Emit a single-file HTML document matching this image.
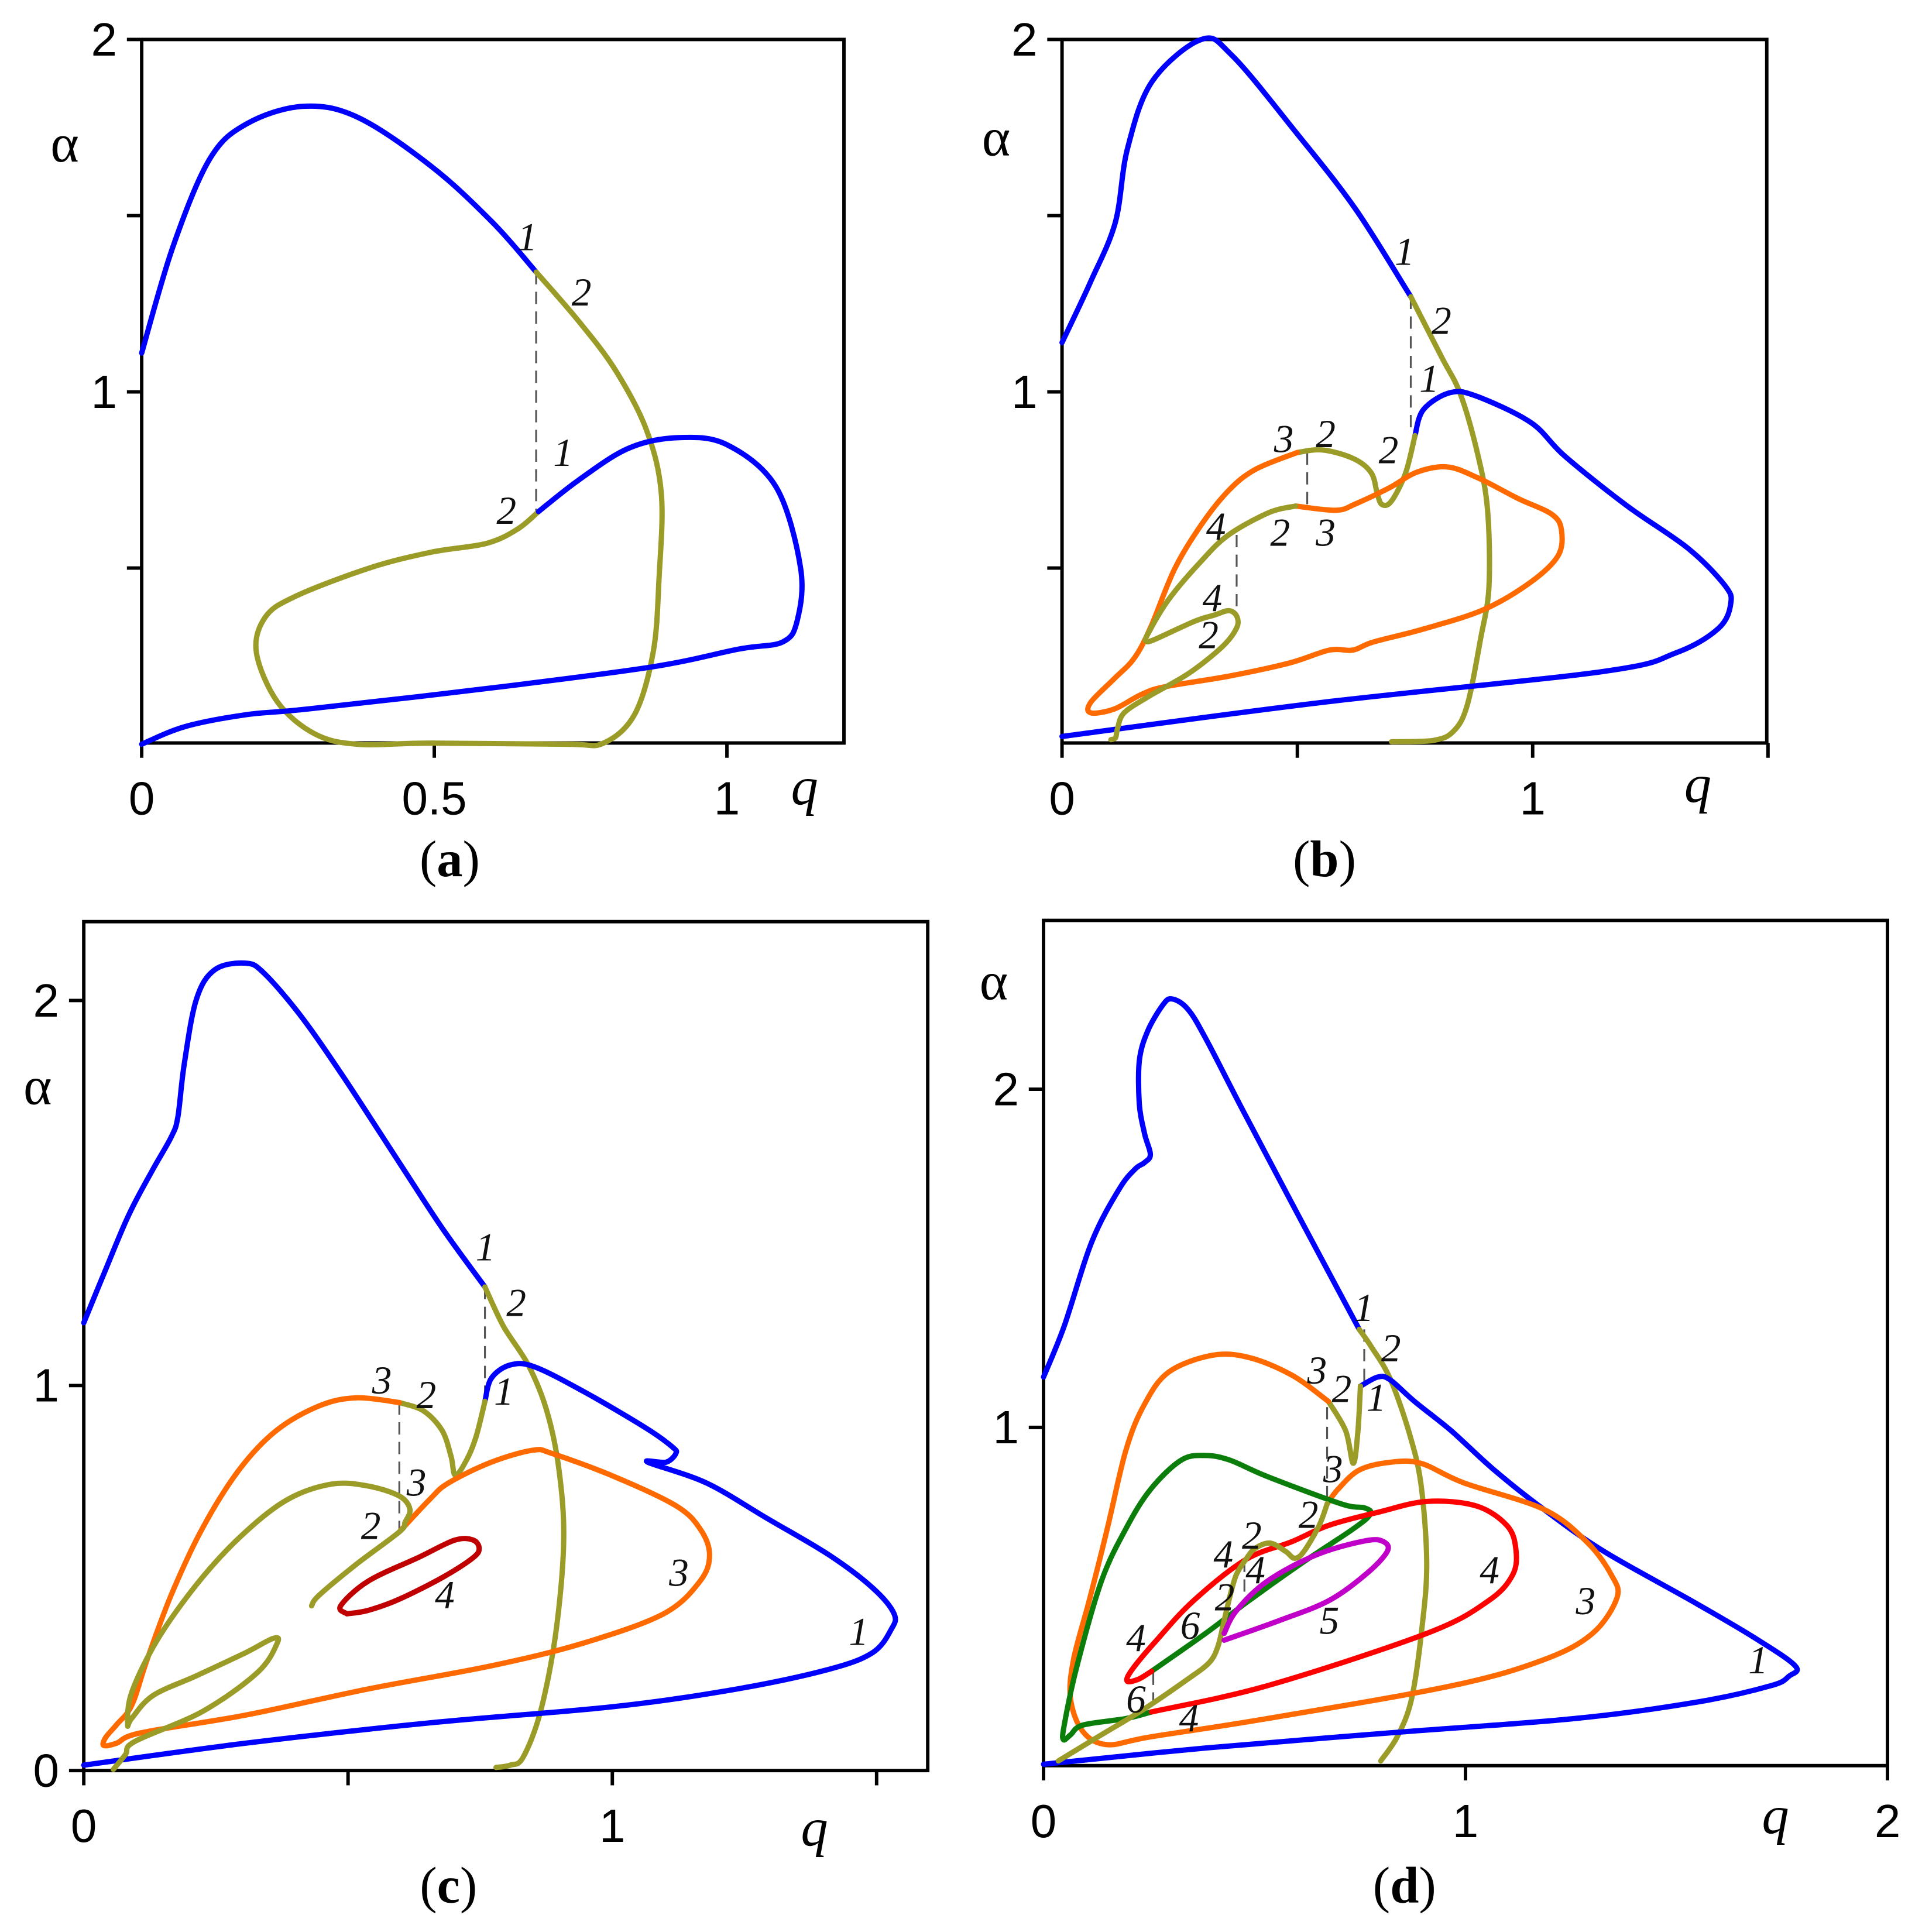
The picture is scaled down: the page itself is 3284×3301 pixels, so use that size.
<!DOCTYPE html>
<html><head><meta charset="utf-8"><style>
html,body{margin:0;padding:0;background:#fff;}
svg{display:block;}
</style></head><body>
<svg id="fig" width="3284" height="3301" viewBox="0 0 1560 1568" xmlns="http://www.w3.org/2000/svg">
<rect width="1560" height="1568" fill="#fff"/>
<g id="layer"></g>
<g font-family="Liberation Serif, serif" font-size="44" fill="#000">
<text x="41" y="131">α</text>
<text x="642" y="653" font-style="italic">q</text>
<text x="797" y="126">α</text>
<text x="1367" y="651" font-style="italic">q</text>
<text x="19" y="896">α</text>
<text x="650" y="1498" font-style="italic">q</text>
<text x="795" y="811">α</text>
<text x="1430" y="1488" font-style="italic">q</text>
</g>
<g font-family="Liberation Serif, serif" font-size="42" fill="#000" text-anchor="middle">
<text x="365" y="711">(<tspan font-weight="bold">a</tspan>)</text>
<text x="1075" y="711">(<tspan font-weight="bold">b</tspan>)</text>
<text x="364" y="1544">(<tspan font-weight="bold">c</tspan>)</text>
<text x="1140" y="1544">(<tspan font-weight="bold">d</tspan>)</text>
</g>
<g font-family="Liberation Serif, serif" font-style="italic" font-size="32" fill="#111">
<text x="420" y="203">1</text><text x="464" y="248">2</text><text x="449" y="378">1</text><text x="403" y="425">2</text>
<text x="1132" y="215">1</text><text x="1162" y="271">2</text><text x="1152" y="318">1</text><text x="1034" y="367">3</text><text x="1068" y="363">2</text><text x="1119" y="376">2</text><text x="979" y="438">4</text><text x="1031" y="443">2</text><text x="1068" y="443">3</text><text x="976" y="496">4</text><text x="973" y="526">2</text>
<text x="386" y="1023">1</text><text x="411" y="1068">2</text><text x="401" y="1140">1</text><text x="302" y="1131">3</text><text x="338" y="1143">2</text><text x="330" y="1214">3</text><text x="293" y="1249">2</text><text x="543" y="1287">3</text><text x="353" y="1305">4</text><text x="689" y="1335">1</text>
<text x="1099" y="1072">1</text><text x="1121" y="1105">2</text><text x="1109" y="1145">1</text><text x="1061" y="1123">3</text><text x="1081" y="1138">2</text><text x="1074" y="1203">3</text><text x="1054" y="1240">2</text><text x="985" y="1272">4</text><text x="1008" y="1257">2</text><text x="1011" y="1285">4</text><text x="986" y="1307">2</text><text x="958" y="1330">6</text><text x="1071" y="1326">5</text><text x="1201" y="1285">4</text><text x="1279" y="1310">3</text><text x="1419" y="1358">1</text><text x="914" y="1340">4</text><text x="914" y="1390">6</text><text x="957" y="1405">4</text>
</g>
</svg>
<script>
// ---------- data (q, alpha) ----------
const aBlue1 = [[0,1.11],[.053,1.41],[.116,1.66],[.179,1.76],[.274,1.81],[.368,1.78],[.495,1.64],[.6,1.48],[.674,1.34]];
const aOlive2 = [[.674,1.34],[.747,1.2],[.81,1.06],[.863,.89],[.888,.71],[.884,.47],[.874,.26],[.842,.084],[.789,.003],[.726,0],[.495,.003],[.368,0],[.295,.03],[.232,.12],[.196,.26],[.211,.36],[.263,.42],[.389,.5],[.495,.545],[.589,.57],[.642,.61],[.678,.66]];
const aBlue1b = [[.678,.66],[.747,.75],[.832,.84],[.916,.87],[1.0,.85],[1.084,.73],[1.126,.5],[1.12,.35],[1.095,.29],[1.02,.27],[.874,.22],[.6,.16],[.284,.1],[.179,.084],[.074,.05],[0,0]];
const aDashed = [[.674,1.34,.66]];

const bBlue1 = [[0,1.14],[.06,1.31],[.113,1.48],[.139,1.69],[.191,1.88],[.296,2.0],[.361,1.955],[.492,1.745],[.623,1.52],[.741,1.27]];
const bOlive2 = [[.741,1.27],[.806,1.1],[.846,.995],[.882,.83],[.904,.668],[.907,.445],[.889,.297],[.861,.111],[.832,.037],[.789,.011],[.7,.007]];
const bBlue1b = [[.75,.876],[.768,.95],[.825,.998],[.882,.987],[.996,.913],[1.068,.818],[1.199,.678],[1.33,.556],[1.408,.451],[1.421,.4],[1.395,.329],[1.304,.259],[1.147,.206],[.554,.119],[0,.022]];
const bOlive2b = [[.75,.876],[.73,.77],[.7,.69],[.68,.68],[.67,.71],[.657,.77],[.62,.81],[.554,.835],[.5,.828]];
const bOrange3 = [[.5,.828],[.411,.78],[.354,.72],[.296,.623],[.239,.497],[.189,.334],[.154,.245],[.111,.186],[.061,.119],[.061,.089],[.111,.1],[.168,.141],[.218,.163],[.354,.193],[.482,.23],[.568,.267],[.618,.267],[.661,.29],[.768,.327],[.896,.382],[.996,.46],[1.054,.535],[1.061,.609],[1.04,.653],[.968,.698],[.882,.757],[.818,.787],[.754,.772],[.696,.728],[.625,.683],[.582,.664],[.496,.676]];
const bOlive2c = [[.496,.676],[.439,.657],[.354,.594],[.296,.52],[.225,.408],[.182,.312],[.179,.293],[.196,.297],[.282,.349],[.325,.367],[.354,.379],[.371,.364],[.371,.33],[.339,.275],[.268,.2],[.182,.134],[.132,.089],[.118,.045],[.114,.019],[.104,.013]];
const bDashed = [[.741,1.27,.88],[.521,.828,.676],[.371,.594,.379]];

const cBlue1 = [[0,1.163],[.038,1.29],[.085,1.443],[.131,1.562],[.166,1.647],[.178,1.698],[.19,1.834],[.213,2.003],[.248,2.08],[.306,2.097],[.341,2.071],[.41,1.961],[.492,1.8],[.597,1.579],[.678,1.409],[.759,1.256]];
const cOlive2 = [[.759,1.256],[.794,1.154],[.841,1.053],[.876,.934],[.899,.781],[.908,.594],[.893,.357],[.864,.153],[.831,.034],[.807,.014],[.78,.008]];
const cBlue1b = [[.759,.959],[.771,1.019],[.806,1.053],[.852,1.049],[.945,.985],[1.062,.891],[1.114,.84],[1.12,.823],[1.102,.801],[1.067,.801],[1.178,.747],[1.294,.654],[1.41,.56],[1.492,.475],[1.533,.407],[1.527,.365],[1.492,.306],[1.41,.263],[1.236,.212],[1.003,.166],[.655,.124],[.306,.071],[0,.014]];
const cOlive2b = [[.759,.959],[.742,.866],[.724,.806],[.703,.767],[.695,.815],[.678,.883],[.643,.934],[.597,.956]];
const cOrange3 = [[.597,.956],[.515,.968],[.445,.947],[.364,.883],[.294,.781],[.224,.628],[.166,.458],[.12,.289],[.091,.17],[.062,.119],[.041,.085],[.038,.065],[.062,.071],[.108,.098],[.306,.144],[.538,.212],[.771,.272],[.945,.331],[1.097,.407],[1.166,.492],[1.184,.56],[1.166,.628],[1.12,.688],[1.003,.764],[.887,.823],[.85,.832],[.771,.801],[.69,.747],[.655,.705],[.597,.62]];
const cOlive2c = [[.056,.003],[.079,.042],[.097,.076],[.224,.153],[.329,.255],[.366,.331],[.358,.343],[.306,.306],[.213,.246],[.131,.195],[.091,.136],[.083,.119],[.091,.204],[.143,.348],[.224,.501],[.306,.62],[.387,.705],[.469,.744],[.538,.739],[.597,.713],[.617,.679],[.608,.645],[.597,.62],[.515,.535],[.445,.455],[.431,.428]];
const cRed4 = [[.498,.407],[.486,.428],[.538,.492],[.631,.552],[.701,.598],[.736,.599],[.748,.577],[.736,.552],[.678,.501],[.597,.445],[.538,.416],[.498,.407]];
const cDashed = [[.759,1.256,.959],[.597,.956,.62]];

const dBlue1 = [[0,1.149],[.049,1.3],[.115,1.551],[.18,1.706],[.217,1.764],[.239,1.783],[.253,1.807],[.239,1.87],[.227,1.957],[.227,2.083],[.246,2.17],[.282,2.248],[.304,2.267],[.341,2.238],[.384,2.151],[.472,1.938],[.603,1.629],[.748,1.29]];
const dOlive2 = [[.748,1.29],[.777,1.238],[.821,1.145],[.865,.99],[.894,.836],[.908,.603],[.897,.41],[.872,.197],[.838,.085],[.799,.014]];
const dBlue1b = [[.751,1.122],[.792,1.149],[.821,1.141],[.879,1.077],[.966,.99],[1.068,.874],[1.185,.758],[1.33,.632],[1.549,.478],[1.694,.371],[1.782,.294],[1.767,.265],[1.723,.236],[1.549,.188],[1.258,.139],[.821,.097],[.384,.052],[0,.004]];
const dOlive2b = [[.751,1.122],[.745,.99],[.734,.894],[.716,.99],[.675,1.077]];
const dOrange3 = [[.675,1.077],[.588,1.155],[.486,1.207],[.399,1.213],[.297,1.164],[.239,1.068],[.195,.932],[.151,.7],[.108,.487],[.071,.313],[.064,.197],[.093,.101],[.151,.062],[.253,.085],[.53,.139],[.967,.236],[1.185,.313],[1.301,.391],[1.359,.497],[1.345,.565],[1.287,.662],[1.185,.758],[.996,.836],[.894,.894],[.821,.897],[.748,.874],[.697,.816],[.672,.774]];
const dOlive2c = [[.672,.774],[.653,.71],[.617,.633],[.595,.613],[.574,.633],[.537,.658],[.501,.642],[.479,.609],[.457,.565],[.443,.507],[.428,.429],[.413,.352],[.392,.304],[.341,.255],[.239,.168],[.137,.091],[.035,.014]];
const dRed4 = [[.256,.159],[.53,.236],[.908,.391],[1.054,.487],[1.112,.565],[1.119,.642],[1.098,.71],[1.025,.768],[.908,.781],[.792,.749],[.675,.71],[.588,.662],[.479,.609],[.355,.487],[.268,.371],[.21,.284],[.198,.25],[.224,.255],[.256,.279]];
const dGreen6 = [[.256,.279],[.384,.391],[.486,.487],[.617,.603],[.734,.7],[.774,.743],[.761,.762],[.705,.774],[.53,.855],[.442,.903],[.384,.917],[.326,.903],[.253,.816],[.195,.7],[.137,.545],[.079,.294],[.049,.12],[.047,.077],[.064,.091],[.093,.12],[.195,.139],[.256,.159]];
const dPurple5 = [[.428,.371],[.559,.429],[.675,.487],[.763,.565],[.814,.632],[.806,.662],[.763,.665],[.646,.623],[.53,.545],[.457,.458],[.428,.391]];
const dDashed = [[.76,1.29,1.122],[.672,1.06,.774],[.476,.609,.499],[.26,.275,.17]];

// tick values and labels
const aXTicks = [0,0.5,1], aXLabels = ["0","0.5","1"], aYTicks = [0.5,1,1.5,2], aYLabels = ["","1","","2"];
const bXTicks = [0,0.5,1,1.5], bXLabels = ["0","","1",""], bYTicks = [0.5,1,1.5,2], bYLabels = ["","1","","2"];
const cXTicks = [0,0.5,1,1.5], cXLabels = ["0","","1",""], cYTicks = [0,1,2], cYLabels = ["0","1","2"];
const dXTicks = [0,1,2], dXLabels = ["0","1","2"], dYTicks = [1,2], dYLabels = ["1","2"];

const COL = {blue:"#0000ff", olive:"#9b9b28", orange:"#ff6a00", red:"#ff0000", green:"#0a7d0a", purple:"#c000c8"};
const NS = "http://www.w3.org/2000/svg";
const layer = document.getElementById('layer');

function makePanel(name, box, x0, xs, y0, ys){
  return {name, box, sx: q => x0 + q*xs, sy: a => y0 - a*ys};
}
const PA = makePanel('a', [115,32,685,603], 115, 475, 604, 286);
const PB = makePanel('b', [862,32,1434,603], 862, 382, 604, 286);
const PC = makePanel('c', [68,748,753,1437], 68, 429, 1437, 312.5);
const PD = makePanel('d', [847,747,1532,1433], 847, 342.5, 1433, 274.5);

function crPath(P, pts){
  const p = pts.map(d => [P.sx(d[0]), P.sy(d[1])]);
  let s = 'M' + p[0][0].toFixed(1) + ' ' + p[0][1].toFixed(1);
  for (let i=0;i<p.length-1;i++){
    const p0 = p[Math.max(0,i-1)], p1 = p[i], p2 = p[i+1], p3 = p[Math.min(p.length-1,i+2)];
    const c1x = p1[0] + (p2[0]-p0[0])/6, c1y = p1[1] + (p2[1]-p0[1])/6;
    const c2x = p2[0] - (p3[0]-p1[0])/6, c2y = p2[1] - (p3[1]-p1[1])/6;
    s += ' C' + c1x.toFixed(1)+' '+c1y.toFixed(1)+' '+c2x.toFixed(1)+' '+c2y.toFixed(1)+' '+p2[0].toFixed(1)+' '+p2[1].toFixed(1);
  }
  return s;
}
function curve(P, pts, color, nm){
  const el = document.createElementNS(NS,'path');
  el.setAttribute('d', crPath(P, pts));
  el.setAttribute('fill','none');
  el.setAttribute('stroke', color);
  el.setAttribute('stroke-width','4.3');
  el.setAttribute('stroke-linejoin','round');
  el.setAttribute('stroke-linecap','round');
  
  
  layer.appendChild(el);
}
function dashes(P, list){
  list.forEach(d => {
    const el = document.createElementNS(NS,'line');
    el.setAttribute('x1', P.sx(d[0])); el.setAttribute('x2', P.sx(d[0]));
    el.setAttribute('y1', P.sy(d[1])); el.setAttribute('y2', P.sy(d[2]));
    el.setAttribute('stroke','#555'); el.setAttribute('stroke-width','1.5');
    el.setAttribute('stroke-dasharray','10 6');
    
    
    layer.appendChild(el);
  });
}
function txt(x, y, anchor, s){
  const tx = document.createElementNS(NS,'text');
  tx.setAttribute('x', x); tx.setAttribute('y', y); tx.setAttribute('text-anchor', anchor);
  tx.setAttribute('font-family','Liberation Sans, sans-serif');
  tx.setAttribute('font-size','38');
  tx.textContent = s;
  layer.appendChild(tx);
  return tx;
}
function axes(P, xt, xl, yt, yl){
  const b = P.box;
  const r = document.createElementNS(NS,'rect');
  r.setAttribute('x', b[0]); r.setAttribute('y', b[1]);
  r.setAttribute('width', b[2]-b[0]); r.setAttribute('height', b[3]-b[1]);
  r.setAttribute('fill','none'); r.setAttribute('stroke','#000'); r.setAttribute('stroke-width','2.8');
  
  
  layer.appendChild(r);
  xt.forEach((v,i) => {
    const x = P.sx(v);
    const t = document.createElementNS(NS,'line');
    t.setAttribute('x1',x); t.setAttribute('x2',x); t.setAttribute('y1',b[3]); t.setAttribute('y2',b[3]+12);
    t.setAttribute('stroke','#000'); t.setAttribute('stroke-width','2.8');
    
    
    layer.appendChild(t);
    if (xl[i]){
      const tx = txt(x, b[3]+58, 'middle', xl[i]);
      
      
    }
  });
  yt.forEach((v,i) => {
    const y = P.sy(v);
    const t = document.createElementNS(NS,'line');
    t.setAttribute('x1',b[0]-12); t.setAttribute('x2',b[0]); t.setAttribute('y1',y); t.setAttribute('y2',y);
    t.setAttribute('stroke','#000'); t.setAttribute('stroke-width','2.8');
    
    
    layer.appendChild(t);
    if (yl[i]){
      const tx = txt(b[0]-20, y+13, 'end', yl[i]);
      
      
    }
  });
}

axes(PA, aXTicks, aXLabels, aYTicks, aYLabels);
axes(PB, bXTicks, bXLabels, bYTicks, bYLabels);
axes(PC, cXTicks, cXLabels, cYTicks, cYLabels);
axes(PD, dXTicks, dXLabels, dYTicks, dYLabels);

dashes(PA, aDashed); dashes(PB, bDashed); dashes(PC, cDashed); dashes(PD, dDashed);

curve(PA, aBlue1, COL.blue, 'a-curve-1-upper');
curve(PA, aOlive2, COL.olive, 'a-curve-2');
curve(PA, aBlue1b, COL.blue, 'a-curve-1-lower');

curve(PB, bBlue1, COL.blue, 'b-curve-1-upper');
curve(PB, bOlive2, COL.olive, 'b-curve-2-outer');
curve(PB, bBlue1b, COL.blue, 'b-curve-1-lower');
curve(PB, bOlive2b, COL.olive, 'b-curve-2-mid');
curve(PB, bOrange3, COL.orange, 'b-curve-3');
curve(PB, bOlive2c, COL.olive, 'b-curve-2-inner');

curve(PC, cBlue1, COL.blue, 'c-curve-1-upper');
curve(PC, cOlive2, COL.olive, 'c-curve-2-outer');
curve(PC, cBlue1b, COL.blue, 'c-curve-1-lower');
curve(PC, cOlive2b, COL.olive, 'c-curve-2-mid');
curve(PC, cOrange3, COL.orange, 'c-curve-3');
curve(PC, cOlive2c, COL.olive, 'c-curve-2-inner');
curve(PC, cRed4, '#c00000', 'c-curve-4-outline');

curve(PD, dBlue1, COL.blue, 'd-curve-1-upper');
curve(PD, dOlive2, COL.olive, 'd-curve-2-outer');
curve(PD, dBlue1b, COL.blue, 'd-curve-1-lower');
curve(PD, dOlive2b, COL.olive, 'd-curve-2-mid');
curve(PD, dOrange3, COL.orange, 'd-curve-3');
curve(PD, dGreen6, COL.green, 'd-curve-6');
curve(PD, dRed4, COL.red, 'd-curve-4');
curve(PD, dOlive2c, COL.olive, 'd-curve-2-inner');
curve(PD, dPurple5, COL.purple, 'd-curve-5');
</script>
</body></html>
